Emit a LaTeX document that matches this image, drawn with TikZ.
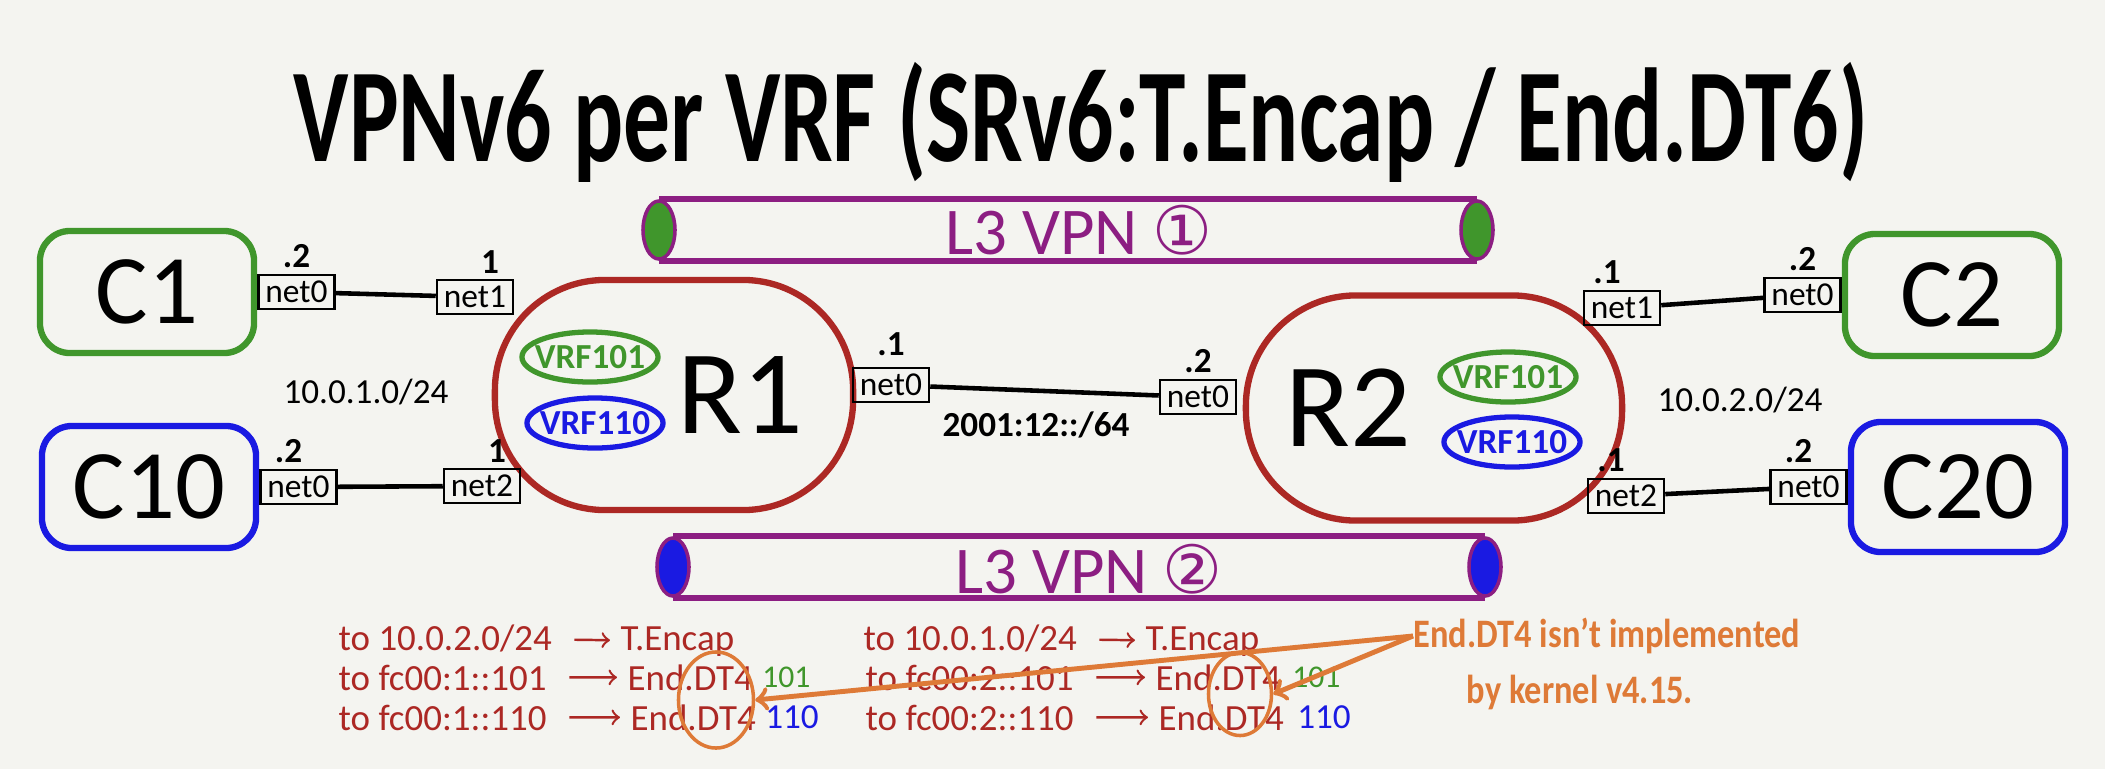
\documentclass[tikz,border=0pt]{standalone}
\usepackage{fontspec}
\setmainfont{Carlito}
\newfontfamily\symfont{DejaVu Sans}
\usepackage{xcolor}
\usepackage{graphicx}
\usepackage{tikz}
\usetikzlibrary{positioning}
\usetikzlibrary{shapes.geometric}

\definecolor{paper}{RGB}{244,244,240}
\definecolor{cgreen}{RGB}{64,150,44}
\definecolor{cblue}{RGB}{26,26,226}
\definecolor{cred}{RGB}{172,40,36}
\definecolor{cpurple}{RGB}{140,30,130}
\definecolor{corange}{RGB}{222,122,55}

\begin{document}
\begin{tikzpicture}[
    x=0.01cm, y=-0.01cm,
    host/.style={rectangle, rounded corners=0.3cm, line width=1.8pt, minimum width=2.14cm, minimum height=1.22cm, font=\fontsize{28}{30}\selectfont},
    router/.style={rectangle, rounded corners=1.1cm, draw=cred, line width=1.8pt, font=\fontsize{34}{36}\selectfont},
    vrf/.style={ellipse, line width=1.5pt, minimum width=1.36cm, minimum height=0.5cm, inner xsep=-0.08cm, inner ysep=0.02cm, font=\fontsize{10}{11}\selectfont\bfseries},
    port/.style={rectangle, draw=black, line width=0.7pt, minimum width=0.76cm, minimum height=0.34cm, inner sep=0pt, font=\fontsize{9.5}{10}\selectfont},
    addr/.style={inner sep=0pt, font=\fontsize{10}{11}\selectfont\bfseries},
    link/.style={line width=1.3pt},
    subnet/.style={font=\fontsize{10}{11}\selectfont},
    pipe/.style={draw=cpurple, line width=1.8pt},
    pipecap/.style={ellipse, draw=cpurple, line width=1pt, minimum width=0.32cm, minimum height=0.58cm, inner sep=0pt},
    vpn/.style={text=cpurple, font=\fontsize{19}{20}\selectfont},
    rule/.style={text=cred, inner sep=0pt, anchor=base west, font=\fontsize{10.5}{12}\selectfont},
    ruleto/.style={->, draw=cred, line width=0.7pt, shorten <=0.22cm, shorten >=0.1cm},
    vrfnum/.style={inner sep=0pt, font=\fontsize{9}{10}\selectfont},
    ring/.style={ellipse, draw=corange, line width=1pt, inner sep=0pt},
    note/.style={text=corange, inner sep=0pt, font=\fontsize{11.5}{12}\selectfont\bfseries},
    hint/.style={->, draw=corange, line width=1.4pt}
]
\fill[paper] (0,0) rectangle (2105,769);

\node[font=\fontsize{38}{40}\selectfont\bfseries] (title) at (1081,122) {\scalebox{0.7}[1]{VPNv6 per VRF (SRv6:T.Encap / End.DT6)}};

% tunnels
\node[pipecap, fill=cgreen] (v1l) at (659,230) {};
\node[pipecap, fill=cgreen] (v1r) at (1477,230) {};
\draw[pipe] (v1l.north) -- (v1r.north);
\draw[pipe] (v1l.south) -- (v1r.south);
\node[vpn] (v1) at (1079,230) {L3 VPN {\symfont ①}};

\node[pipecap, fill=cblue] (v2l) at (673,567) {};
\node[pipecap, fill=cblue] (v2r) at (1485,567) {};
\draw[pipe] (v2l.north) -- (v2r.north);
\draw[pipe] (v2l.south) -- (v2r.south);
\node[vpn] (v2) at (1089,569) {L3 VPN {\symfont ②}};

% hosts and routers
\node[host, draw=cgreen] (c1) at (147,292) {C1};
\node[host, draw=cblue] (c10) at (149,487) {C10};
\node[host, draw=cgreen] (c2) at (1952,295) {C2};
\node[host, draw=cblue, minimum height=1.3cm] (c20) at (1958,487) {C20};

\node[router, minimum width=3.58cm, minimum height=2.3cm, text width=2.58cm, inner xsep=0.5cm, align=right] (r1) at (674,395) {R1};
\node[router, minimum width=3.76cm, minimum height=2.25cm, text width=2.96cm, inner xsep=0.4cm, align=left] (r2) at (1434,408) {R2};

\node[vrf, draw=cgreen, text=cgreen] (r1v101) at (590,357) {VRF101};
\node[vrf, draw=cblue, text=cblue] (r1v110) at (595,423) {VRF110};
\node[vrf, draw=cgreen, text=cgreen] (r2v101) at (1508,377) {VRF101};
\node[vrf, draw=cblue, text=cblue] (r2v110) at (1512,442) {VRF110};

% interfaces
\node[port, right=0cm of c1] (c1p) {net0};
\node[port, right=0cm of c10] (c10p) {net0};
\node[port, left=0cm of c2] (c2p) {net0};
\node[port, left=0cm of c20] (c20p) {net0};
\node[port] (r1p1) at (475,297) {net1};
\node[port] (r1p2) at (482,486) {net2};
\node[port] (r1p0) at (891,385) {net0};
\node[port] (r2p0) at (1198,397) {net0};
\node[port] (r2p1) at (1622,308) {net1};
\node[port] (r2p2) at (1626,496) {net2};

\node[addr, above=0.05cm of c1p] (c1a) {.2};
\node[addr, above=0.05cm of c10p, xshift=-0.1cm] (c10a) {.2};
\node[addr, above=0.05cm of r1p1, xshift=0.15cm] (r1a1) {1};
\node[addr, above=0.05cm of r1p2, xshift=0.15cm] (r1a2) {1};
\node[addr, above=0.1cm of r1p0] (r1a0) {.1};
\node[addr, above=0.05cm of r2p0] (r2a0) {.2};
\node[addr, above=0.05cm of r2p1, xshift=-0.15cm] (r2a1) {.1};
\node[addr, above=0.05cm of r2p2, xshift=-0.15cm] (r2a2) {.1};
\node[addr, above=0.05cm of c2p] (c2a) {.2};
\node[addr, above=0.05cm of c20p, xshift=-0.1cm] (c20a) {.2};

\draw[link] (c1p) -- (r1p1);
\draw[link] (c10p) -- (r1p2);
\draw[link] (r1p0) -- (r2p0);
\draw[link] (r2p1) -- (c2p);
\draw[link] (r2p2) -- (c20p);

\node[subnet] (n1) at (366,392) {10.0.1.0/24};
\node[subnet] (n2) at (1740,400) {10.0.2.0/24};
\node[subnet, font=\fontsize{10}{11}\selectfont\bfseries] (n12) at (1036,425) {2001:12::/64};

% SRv6 rules
\node[rule] (a1) at (338,650) {to 10.0.2.0/24};
\node[rule] (a1t) at (620,650) {T.Encap};
\node[rule] (a2) at (338,690) {to fc00:1::101};
\node[rule] (a2t) at (627,690) {End.DT4};
\node[rule] (a3) at (338,730) {to fc00:1::110};
\node[rule] (a3t) at (630,730) {End.DT4};
\draw[ruleto] (a1) -- (a1t);
\draw[ruleto] (a2) -- (a2t);
\draw[ruleto] (a3) -- (a3t);
\node[vrfnum, text=cgreen, right=0.08cm of a2t] (a2n) {101};
\node[vrfnum, text=cblue, right=0.08cm of a3t, font=\fontsize{10}{11}\selectfont] (a3n) {110};

\node[rule] (b1) at (863,650) {to 10.0.1.0/24};
\node[rule] (b1t) at (1145,650) {T.Encap};
\node[rule] (b2) at (865,690) {to fc00:2::101};
\node[rule] (b2t) at (1155,690) {End.DT4};
\node[rule] (b3) at (865,730) {to fc00:2::110};
\node[rule] (b3t) at (1158,730) {End.DT4};
\draw[ruleto] (b1) -- (b1t);
\draw[ruleto] (b2) -- (b2t);
\draw[ruleto] (b3) -- (b3t);
\node[vrfnum, text=cgreen, right=0.1cm of b2t] (b2n) {101};
\node[vrfnum, text=cblue, right=0.12cm of b3t, font=\fontsize{10}{11}\selectfont] (b3n) {110};

\node[ring, minimum width=0.75cm, minimum height=0.96cm] (ringl) at (716,700) {};
\node[ring, minimum width=0.63cm, minimum height=0.83cm] (ringr) at (1240,694) {};

\node[note, anchor=west] (note1) at (1413,636) {\scalebox{0.85}[1]{End.DT4 isn't implemented}};
\node[note] (note2) at (1580,692) {\scalebox{0.85}[1]{by kernel v4.15.}};
\draw[hint] (note1.west) -- (ringl.east);
\draw[hint] (note1.west) -- (ringr.east);

\end{tikzpicture}
\end{document}
